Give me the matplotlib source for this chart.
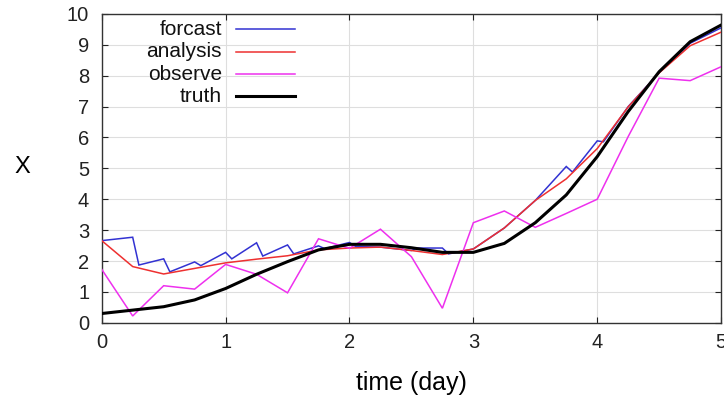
import matplotlib
matplotlib.use("Agg")
import matplotlib.pyplot as plt
from matplotlib import font_manager

# ---- data ----
t_cycle = [0.0, 0.25, 0.5, 0.75, 1.0, 1.25, 1.5, 1.75, 2.0, 2.25, 2.5,
           2.75, 3.0, 3.25, 3.5, 3.75, 4.0, 4.25, 4.5, 4.75, 5.0]

analysis = [2.66, 1.82, 1.58, 1.76, 1.94, 2.06, 2.17, 2.36, 2.42, 2.45, 2.34,
            2.21, 2.39, 3.07, 3.96, 4.66, 5.64, 6.99, 8.09, 8.97, 9.41]

observe = [1.73, 0.22, 1.20, 1.09, 1.89, 1.57, 0.97, 2.72, 2.41, 3.03, 2.14,
           0.47, 3.24, 3.62, 3.09, 3.54, 4.00, 6.03, 7.92, 7.84, 8.29]

truth = [0.30, 0.41, 0.52, 0.74, 1.11, 1.57, 1.98, 2.36, 2.54, 2.54, 2.43,
         2.28, 2.28, 2.57, 3.24, 4.14, 5.38, 6.84, 8.13, 9.10, 9.64]

t_forcast = [0.0, 0.25, 0.30, 0.5, 0.55, 0.75, 0.80, 1.0, 1.05, 1.25, 1.30,
             1.5, 1.55, 1.75, 1.80, 2.0, 2.05, 2.25, 2.5, 2.55, 2.75, 2.80,
             3.0, 3.25, 3.5, 3.75, 3.80, 4.0, 4.05, 4.25, 4.5, 4.75, 5.0]
forcast = [2.66, 2.77, 1.87, 2.07, 1.65, 1.97, 1.85, 2.28, 2.07, 2.59, 2.16,
           2.52, 2.23, 2.49, 2.40, 2.60, 2.47, 2.45, 2.34, 2.42, 2.42, 2.23,
           2.39, 3.07, 3.96, 5.06, 4.88, 5.89, 5.86, 7.00, 8.10, 9.05, 9.55]

labels = ["forcast", "analysis", "observe", "truth"]
colors = ["#3232d2", "#ee3030", "#ee30ee", "#000000"]
widths = [1.1, 1.1, 1.1, 2.2]

x_ticks = [0, 1, 2, 3, 4, 5]
y_ticks = [0, 1, 2, 3, 4, 5, 6, 7, 8, 9, 10]

# ---- font ----
names = {f.name for f in font_manager.fontManager.ttflist}
fam = "Liberation Sans" if "Liberation Sans" in names else "DejaVu Sans"
plt.rcParams["font.family"] = [fam, "DejaVu Sans"]

fig = plt.figure(figsize=(7.24, 3.98), dpi=100)
ax = fig.add_axes([0.1405, 0.189, 0.8555, 0.776])

series = [(t_forcast, forcast), (t_cycle, analysis), (t_cycle, observe), (t_cycle, truth)]
order = [2, 0, 1, 3]
for i in order:
    xs, ys = series[i]
    ax.plot(xs, ys, color=colors[i], lw=widths[i], zorder=3 + i,
            solid_joinstyle="miter")

ax.set_xlim(0, 5)
ax.set_ylim(0, 10)
ax.set_xticks(x_ticks)
ax.set_yticks(y_ticks)
ax.grid(True, color="#dedede", lw=0.8, zorder=0)
ax.set_axisbelow(True)
ax.tick_params(direction="in", length=4.5, width=0.8, top=True, right=True,
               labelsize=14.5, colors="#222222")
ax.tick_params(axis="y", pad=9)
ax.tick_params(axis="x", pad=7)
for s in ax.spines.values():
    s.set_color("#333333")
    s.set_linewidth(1.0)

ax.set_xlabel("time (day)", fontsize=18)
ax.set_ylabel("X", fontsize=17, rotation=0, ha="center", va="center")
ax.yaxis.set_label_coords(-0.128, 0.503)
ax.xaxis.set_label_coords(0.5, -0.155)

# ---- legend (gnuplot style: right-aligned text, sample to the right) ----
rows_y = [0.951, 0.878, 0.805, 0.734]
for i in range(4):
    y = rows_y[i]
    ax.text(0.194, y, labels[i], transform=ax.transAxes, ha="right",
            va="center", fontsize=15, color="#111111", zorder=10)
    ax.plot([0.217, 0.312], [y, y], transform=ax.transAxes, color=colors[i],
            lw=widths[i], zorder=10, clip_on=False)

fig.savefig("out.png", dpi=100)
